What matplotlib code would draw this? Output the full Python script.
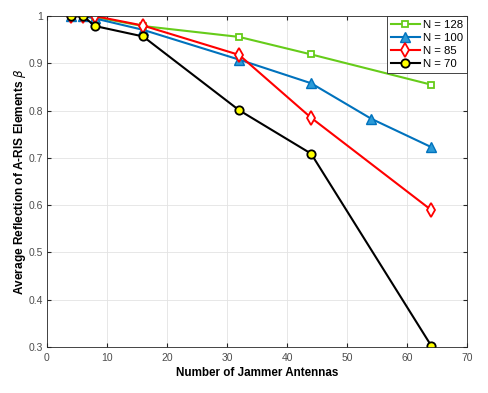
import matplotlib
matplotlib.use("Agg")
import matplotlib.pyplot as plt

# Number of jammer antennas
x_main = [4, 6, 8, 16, 32, 44, 64]
x_blue = [4, 6, 8, 16, 32, 44, 54, 64]

beta_n128 = [1.0, 1.0, 0.998, 0.979, 0.956, 0.919, 0.855]
beta_n100 = [1.0, 1.0, 0.995, 0.971, 0.908, 0.858, 0.783, 0.723]
beta_n85 = [1.0, 1.0, 1.0, 0.980, 0.918, 0.785, 0.590]
beta_n70 = [1.0, 1.0, 0.979, 0.957, 0.801, 0.709, 0.303]

plt.rcParams["font.family"] = ["Liberation Sans", "DejaVu Sans"]

fig = plt.figure(figsize=(4.88, 3.93), dpi=100)
ax = fig.add_axes([0.0963, 0.117, 0.861, 0.842])

ax.plot(x_main, beta_n128, color="#66cc1a", lw=1.5, marker="s", ms=5,
        mfc="white", mec="#66cc1a", mew=1.3, label="N = 128")
ax.plot(x_blue, beta_n100, color="#0072bd", lw=1.5, marker="^", ms=7,
        mfc="#2b9bd8", mec="#0072bd", mew=1.0, label="N = 100")
ax.plot(x_main, beta_n85, color="#ff0000", lw=1.5, marker="d", ms=7,
        mfc="white", mec="#ff0000", mew=1.3, label="N = 85")
ax.plot(x_main, beta_n70, color="black", lw=1.5, marker="o", ms=6,
        mfc="#ffff00", mec="black", mew=1.3, label="N = 70")

ax.set_xlim(0, 70)
ax.set_ylim(0.3, 1.0)
ax.set_xticks(range(0, 71, 10))
ax.set_yticks([0.3, 0.4, 0.5, 0.6, 0.7, 0.8, 0.9, 1.0])
ax.set_yticklabels(["0.3", "0.4", "0.5", "0.6", "0.7", "0.8", "0.9", "1"])
ax.tick_params(direction="in", labelsize=7.5, colors="#262626", length=3,
               top=True, right=True, labelcolor="#4d4d4d")
ax.tick_params(axis="x", pad=4)
ax.tick_params(axis="y", pad=3)
for s in ax.spines.values():
    s.set_color("#262626")
    s.set_linewidth(0.6)
ax.grid(True, color="#e3e3e3", lw=0.6)
ax.set_axisbelow(True)

ax.set_xlabel("Number of Jammer Antennas", fontsize=8.4, fontweight="bold",
              labelpad=3)
ax.set_ylabel(r"Average Reflection of A-RIS Elements $\beta$", fontsize=8.6,
              fontweight="bold", labelpad=0)

leg = ax.legend(loc="upper right", fontsize=8.2, fancybox=False,
                edgecolor="#262626", framealpha=1, borderaxespad=0,
                handlelength=2.5, handletextpad=0.3, labelspacing=0.25,
                borderpad=0.35)
leg.get_frame().set_linewidth(0.6)

fig.savefig("out.png", dpi=100)
